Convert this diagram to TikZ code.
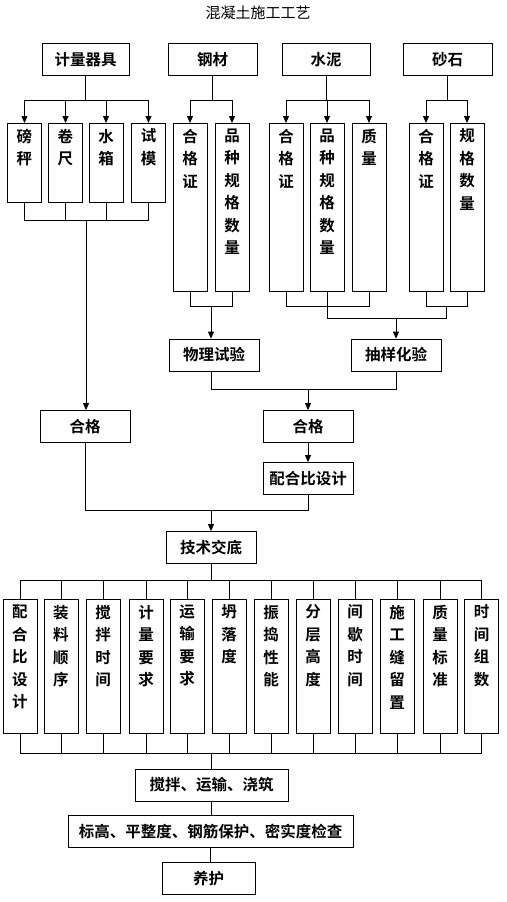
\documentclass[tikz,border=0pt]{standalone}
\usepackage{fontspec}
\setmainfont{Noto Sans CJK SC}[BoldFont={Noto Sans CJK SC Bold}]
\usetikzlibrary{arrows.meta,calc}
\newcommand{\vtext}[2]{\parbox[c][#1][t]{34pt}{\centering\baselineskip=22.5pt\vspace*{5.5pt}#2\par}}
\begin{document}
\begin{tikzpicture}[x=1pt,y=-1pt,
 ln/.style={line width=0.8pt},
 arr/.style={ln,-{Triangle[length=7pt,width=6pt]}},
 hbox/.style={draw,line width=0.8pt,inner sep=0pt,minimum width=90pt,minimum height=32pt,font=\fontsize{15.5}{18}\selectfont\bfseries},
 vbox/.style={draw,line width=0.8pt,inner sep=0pt,anchor=north,font=\fontsize{15.5}{22.5}\selectfont\bfseries}]
\useasboundingbox (0,0) rectangle (506,902);
\node (title) at (258,13) {\fontsize{15}{15}\selectfont 混凝土施工工艺};
% top row
\node[hbox,minimum width=87pt] (jl) at (85.5,59.5) {计量器具};
\node[hbox,minimum width=89pt] (gc) at (212.5,59.5) {钢材};
\node[hbox,minimum width=88pt] (sn) at (326,59.5) {水泥};
\node[hbox,minimum width=89pt] (ss) at (447.5,59.5) {砂石};
% children
\node[vbox] (a1) at (24.5,123) {\vtext{79pt}{磅\\秤}};
\node[vbox] (a2) at (65.5,123) {\vtext{79pt}{卷\\尺}};
\node[vbox] (a3) at (106,123) {\vtext{79pt}{水\\箱}};
\node[vbox] (a4) at (148.5,123) {\vtext{79pt}{试\\模}};
\node[vbox] (b1) at (190,123) {\vtext{168pt}{合\\格\\证}};
\node[vbox] (b2) at (232,123) {\vtext{168pt}{品\\种\\规\\格\\数\\量}};
\node[vbox] (c1) at (286,123) {\vtext{168pt}{合\\格\\证}};
\node[vbox] (c2) at (327,123) {\vtext{168pt}{品\\种\\规\\格\\数\\量}};
\node[vbox] (c3) at (369,123) {\vtext{168pt}{质\\量}};
\node[vbox] (d1) at (426,123) {\vtext{168pt}{合\\格\\证}};
\node[vbox] (d2) at (467,123) {\vtext{168pt}{规\\格\\数\\量}};
% splits
\draw[ln] (jl.south) -- ++(0,24) coordinate (s1);
\draw[ln] (s1 -| a1) -- (s1 -| a4);
\foreach \c in {a1,a2,a3,a4} \draw[arr] (s1 -| \c.north) -- (\c.north);
\draw[ln] (gc.south) -- ++(0,24) coordinate (s2);
\draw[ln] (s2 -| b1) -- (s2 -| b2);
\foreach \c in {b1,b2} \draw[arr] (s2 -| \c.north) -- (\c.north);
\draw[ln] (sn.south) -- ++(0,24) coordinate (s3);
\draw[ln] (s3 -| c1) -- (s3 -| c3);
\foreach \c in {c1,c2,c3} \draw[arr] (s3 -| \c.north) -- (\c.north);
\draw[ln] (ss.south) -- ++(0,24) coordinate (s4);
\draw[ln] (s4 -| d1) -- (s4 -| d2);
\foreach \c in {d1,d2} \draw[arr] (s4 -| \c.north) -- (\c.north);
% middle boxes
\node[hbox] (wl) at (214,355) {物理试验};
\node[hbox] (cy) at (396,355) {抽样化验};
\node[hbox] (hg1) at (85,426.5) {合格};
\node[hbox] (hg2) at (308,426.5) {合格};
\node[hbox] (phb) at (308,478.5) {配合比设计};
\node[hbox] (jsjd) at (211,547.5) {技术交底};
% group A
\draw[ln] (a1.south) -- ++(0,18) coordinate (ja) -- (ja -| a4.south) -- (a4.south);
\foreach \c in {a2,a3} \draw[ln] (\c.south) -- (\c.south |- ja);
\coordinate (ma) at (86,220);
\draw[arr] (ma) -- (ma |- hg1.north);
% group B
\draw[ln] (b1.south) -- ++(0,15) coordinate (jb1) -- (jb1 -| b2.south) -- (b2.south);
\coordinate (mb) at ($(jb1)!0.5!(jb1 -| b2.south)$);
\draw[arr] (mb) -- (mb |- wl.north);
% group C and D
\draw[ln] (c1.south) -- ++(0,15) coordinate (jc) -- (jc -| c3.south) -- (c3.south);
\draw[ln] (c2.south) -- ++(0,27) coordinate (jcd);
\draw[ln] (d1.south) -- ++(0,15) coordinate (jd) -- (jd -| d2.south) -- (d2.south);
\coordinate (md) at ($(jd)!0.5!(jd -| d2.south)$);
\draw[ln] (md) -- (md |- jcd) -- (jcd);
\draw[arr] (cy.north |- jcd) -- (cy.north);
% wl/cy to hg2
\draw[ln] (mb |- wl.south) -- ++(0,18) coordinate (jw) -- (jw -| cy.south) -- (cy.south);
\draw[arr] (hg2.north |- jw) -- (hg2.north);
\draw[arr] (hg2.south) -- (phb.north);
% to jsjd
\draw[ln] (hg1.south) -- ++(0,67) coordinate (jh) -- (jh -| phb.south) -- (phb.south);
\draw[arr] (jh -| jsjd.north) -- (jsjd.north);
% twelve boxes
\foreach \n/\x/\t in {e1/20/{配\\合\\比\\设\\计},e2/61/{装\\料\\顺\\序},e3/103/{搅\\拌\\时\\间},e4/146/{计\\量\\要\\求},e5/187/{运\\输\\要\\求},e6/229/{坍\\落\\度},e7/271/{振\\捣\\性\\能},e8/313/{分\\层\\高\\度},e9/355/{间\\歇\\时\\间},e10/397/{施\\工\\缝\\留\\置},e11/440/{质\\量\\标\\准},e12/481.5/{时\\间\\组\\数}}
  \node[vbox] (\n) at (\x,599) {\vtext{134pt}{\t}};
\draw[ln] (jsjd.south) -- ++(0,16) coordinate (jt);
\draw[ln] (jt -| e1.north) -- (jt -| e12.north);
\foreach \n in {e1,e2,e3,e4,e5,e6,e7,e8,e9,e10,e11,e12} \draw[ln] (jt -| \n.north) -- (\n.north);
\draw[ln] (e1.south) -- ++(0,20) coordinate (jbm) -- (jbm -| e12.south) -- (e12.south);
\foreach \n in {e2,e3,e4,e5,e6,e7,e8,e9,e10,e11} \draw[ln] (\n.south) -- (\n.south |- jbm);
% bottom chain
\node[hbox,minimum width=153pt] (jb) at (211.5,785) {搅拌、运输、浇筑};
\node[hbox,minimum width=285pt] (bg) at (210.5,831.5) {标高、平整度、钢筋保护、密实度检查};
\node[hbox,minimum width=93pt] (yh) at (208.5,878.5) {养护};
\draw[ln] (jbm -| jb.north) -- (jb.north);
\draw[ln] (jb.south) -- (jb.south |- bg.north);
\draw[ln] (bg.south) -- (bg.south |- yh.north);
\end{tikzpicture}
\end{document}
